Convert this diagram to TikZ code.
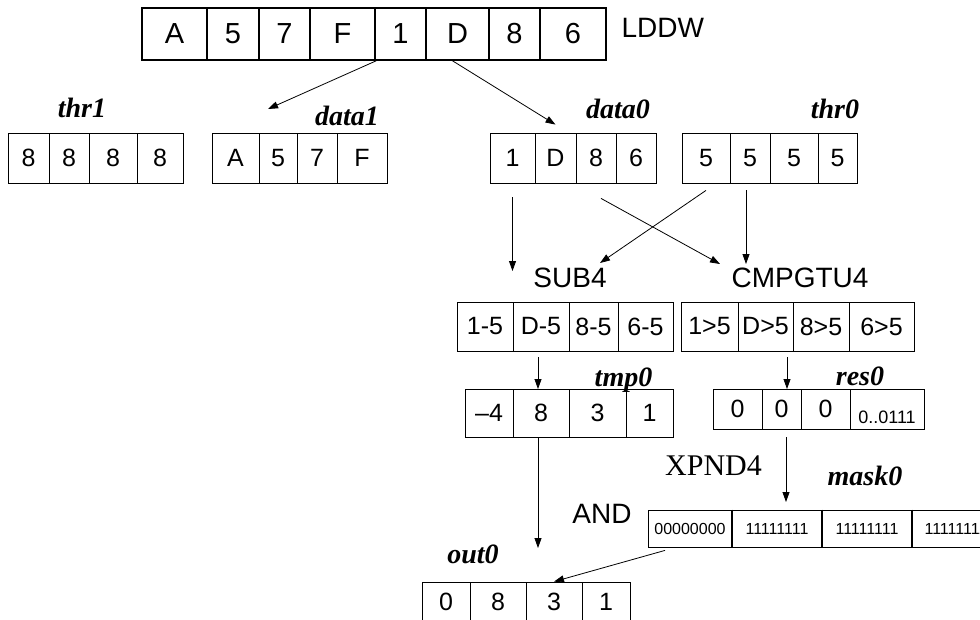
\documentclass[tikz,border=0pt]{standalone}
\usepackage{fontspec}
\setmainfont{Liberation Sans}
\newfontfamily\tnr{Liberation Serif}
\usetikzlibrary{arrows.meta}

\newcommand\fs[1]{\fontsize{#1}{#1}\selectfont}

\tikzset{
  regcell/.style={draw, line width=1.6pt, inner sep=0pt, minimum height=52pt, font=\fs{29}},
  cell/.style={draw, line width=0.8pt, inner sep=0pt, minimum height=#1, font=\fs{25}},
  cell/.default=50pt,
  regname/.style={anchor=base, font=\tnr\bfseries\itshape\fs{28}},
  opname/.style={anchor=base, font=\fs{28}},
  arr/.style={line width=0.8pt, -{Triangle[length=10pt,width=7pt]}}
}

\begin{document}
\begin{tikzpicture}[x=1pt,y=-1pt]
        \useasboundingbox (0,0) rectangle (980,619);
        \clip (0,0) rectangle (980,619);
        % LDDW register
        \node[regcell, minimum width=65pt] (top1) at (174.5,34) {A};
        \node[regcell, minimum width=52pt] (top2) at (233,34) {5};
        \node[regcell, minimum width=51pt] (top3) at (284.5,34) {7};
        \node[regcell, minimum width=65pt] (top4) at (342.5,34) {F};
        \node[regcell, minimum width=51pt] (top5) at (400.5,34) {1};
        \node[regcell, minimum width=63pt] (top6) at (457.5,34) {D};
        \node[regcell, minimum width=51pt] (top7) at (514.5,34) {8};
        \node[regcell, minimum width=66pt] (top8) at (573,34) {6};
        \node[opname, anchor=base west] (lddw) at (618,37) {LDDW};
        % thr1 / data1
        \node[regname] (thr1lbl) at (82,117) {thr1};
        \node[cell, minimum width=41pt] (ta1) at (28.5,158) {8};
        \node[cell, minimum width=40pt] (ta2) at (69,158) {8};
        \node[cell, minimum width=48pt] (ta3) at (113,158) {8};
        \node[cell, minimum width=46pt] (ta4) at (160,158) {8};
        \node[regname] (data1lbl) at (347,125) {data1};
        \node[cell, minimum width=47pt] (da1) at (235.5,158) {A};
        \node[cell, minimum width=38pt] (da2) at (278,158) {5};
        \node[cell, minimum width=40pt] (da3) at (317,158) {7};
        \node[cell, minimum width=50pt] (da4) at (362,158) {F};
        % data0 / thr0
        \node[regname] (data0lbl) at (618,118) {data0};
        \node[cell, minimum width=45pt] (dz1) at (512.5,158) {1};
        \node[cell, minimum width=41pt] (dz2) at (555.5,158) {D};
        \node[cell, minimum width=40pt] (dz3) at (596,158) {8};
        \node[cell, minimum width=40pt] (dz4) at (636,158) {6};
        \node[regname] (thr0lbl) at (835,118) {thr0};
        \node[cell, minimum width=48pt] (th1) at (706,158) {5};
        \node[cell, minimum width=40pt] (th2) at (750,158) {5};
        \node[cell, minimum width=48pt] (th3) at (794,158) {5};
        \node[cell, minimum width=39pt] (th4) at (837.5,158) {5};
        % split of the loaded word
        \coordinate (d1in) at (268,109);
        \coordinate (d0in) at ([yshift=8pt]dz2.north);
        \draw[arr] ([xshift=2pt]top5.south west) -- (d1in);
        \draw[arr] ([xshift=-5pt]top6.south) -- (d0in);
        % SUB4 and CMPGTU4
        \node[opname] (sub) at (570,287) {SUB4};
        \node[opname] (cmp) at (800,287) {CMPGTU4};
        \coordinate (subin1) at (512.5,271);
        \coordinate (subin2) at (600,263);
        \coordinate (cmpin1) at (720,264);
        \coordinate (cmpin2) at (746,264);
        \draw[arr] ([yshift=-14pt]dz1.south) -- (subin1);
        \draw[arr] ([yshift=-7pt]th1.south) -- (subin2);
        \draw[arr] ([xshift=5pt,yshift=-15pt]dz3.south) -- (cmpin1);
        \draw[arr] ([yshift=-7pt]cmpin2 |- th2.south) -- (cmpin2);
        \node[cell=49pt, minimum width=56pt] (sb1) at (485,326.5) {1-5};
        \node[cell=49pt, minimum width=56pt] (sb2) at (541,326.5) {D-5};
        \node[cell=49pt, minimum width=49pt] (sb3) at (593.5,326.5) {8-5};
        \node[cell=49pt, minimum width=55pt] (sb4) at (645.5,326.5) {6-5};
        \node[cell=49pt, minimum width=57pt] (cp1) at (709.5,326.5) {1>5};
        \node[cell=49pt, minimum width=55pt] (cp2) at (765.5,326.5) {D>5};
        \node[cell=49pt, minimum width=56pt] (cp3) at (821,326.5) {8>5};
        \node[cell=49pt, minimum width=65pt] (cp4) at (881.5,326.5) {6>5};
        % tmp0 / res0
        \coordinate (tmpin) at (538,389);
        \coordinate (resin) at (787,389);
        \draw[arr] ([yshift=-6pt]tmpin |- sb2.south) -- (tmpin);
        \draw[arr] ([yshift=-6pt]resin |- cp2.south) -- (resin);
        \node[regname] (tmp0lbl) at (623.5,386) {tmp0};
        \node[cell=48pt, minimum width=48pt] (tp1) at (489,413) {--4};
        \node[cell=48pt, minimum width=56pt] (tp2) at (541,413) {8};
        \node[cell=48pt, minimum width=57pt] (tp3) at (597.5,413) {3};
        \node[cell=48pt, minimum width=47pt] (tp4) at (649.5,413) {1};
        \node[regname] (res0lbl) at (860,385) {res0};
        \node[cell=40pt, minimum width=49pt] (rs1) at (737.5,409) {0};
        \node[cell=40pt, minimum width=39pt] (rs2) at (781.5,409) {0};
        \node[cell=40pt, minimum width=49pt] (rs3) at (825.5,409) {0};
        \node[cell=40pt, minimum width=74pt] (rs4) at (887,409) {\smash{\raisebox{-14pt}{\fs{18}0..0111}}};
        % XPND4 and AND
        \node[opname, font=\tnr\fs{30}] (xpnd) at (713.5,475) {XPND4};
        \node[opname] (and) at (602,523) {AND};
        \node[regname] (mask0lbl) at (865,485) {mask0};
        \coordinate (mskin) at (786,502);
        \coordinate (outin) at (538,548);
        \draw[arr] ([yshift=-8pt]mskin |- rs2.south) -- (mskin);
        \draw[arr] (outin |- tp2.south) -- (outin);
        \node[cell=37pt, minimum width=84pt, font=\fs{16}] (mk1) at (690,528.5) {00000000};
        \node[cell=37pt, minimum width=90pt, font=\fs{16}] (mk2) at (777,528.5) {11111111};
        \node[cell=37pt, minimum width=90pt, font=\fs{16}] (mk3) at (867,528.5) {11111111};
        \node[cell=37pt, minimum width=88pt, font=\fs{16}] (mk4) at (956,528.5) {11111111};
        \draw[line width=2pt] (mk1.north east) -- (mk1.south east);
        \draw[line width=2pt] (mk2.north east) -- (mk2.south east);
        \draw[line width=2pt] (mk3.north east) -- (mk3.south east);
        % out0
        \node[regname] (out0lbl) at (473,563) {out0};
        \node[cell=40pt, minimum width=48pt] (ot1) at (446,602) {0};
        \node[cell=40pt, minimum width=56pt] (ot2) at (498,602) {8};
        \node[cell=40pt, minimum width=56pt] (ot3) at (554,602) {3};
        \node[cell=40pt, minimum width=48pt] (ot4) at (606,602) {1};
        \draw[arr] ([xshift=-25pt,yshift=-3pt]mk1.south) -- (ot3.north);
    \end{tikzpicture}
\end{document}
